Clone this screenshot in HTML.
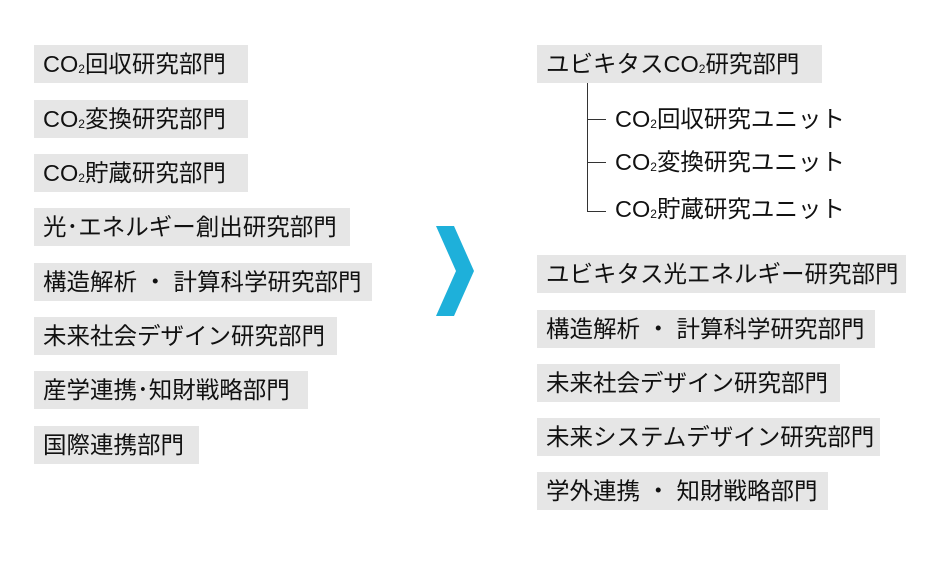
<!DOCTYPE html>
<html><head><meta charset="utf-8"><style>
body{margin:0;width:942px;height:569px;background:#fff;position:relative;overflow:hidden;font-family:"Liberation Sans","Noto Sans CJK JP",sans-serif;color:#111}
.b{position:absolute;height:38px;background:#e6e6e6;font-size:23.5px;line-height:38px;padding-left:9px;box-sizing:border-box;white-space:nowrap}
.t{position:absolute;font-size:23.5px;line-height:30px;white-space:nowrap}
sub{font-size:12px;vertical-align:-1px}
.l{position:absolute;background:#333}
</style></head><body>
<div class="b" style="left:34px;top:45px;width:214px">CO<sub>2</sub>回収研究部門</div>
<div class="b" style="left:34px;top:100px;width:214px">CO<sub>2</sub>変換研究部門</div>
<div class="b" style="left:34px;top:154px;width:214px">CO<sub>2</sub>貯蔵研究部門</div>
<div class="b" style="left:34px;top:208px;width:316px">光･エネルギー創出研究部門</div>
<div class="b" style="left:34px;top:263px;width:338px">構造解析 ・ 計算科学研究部門</div>
<div class="b" style="left:34px;top:317px;width:303px">未来社会デザイン研究部門</div>
<div class="b" style="left:34px;top:371px;width:274px">産学連携･知財戦略部門</div>
<div class="b" style="left:34px;top:426px;width:165px">国際連携部門</div>

<svg style="position:absolute;left:430px;top:224px" width="50" height="94"><polygon points="6,2 24,2 44,47 24,92 6,92 26,47" fill="#1eb0da"/></svg>

<div class="b" style="left:537px;top:45px;width:285px">ユビキタスCO<sub>2</sub>研究部門</div>
<div class="l" style="left:587px;top:83px;width:1px;height:129px"></div>
<div class="l" style="left:587px;top:119px;width:19px;height:1px"></div>
<div class="l" style="left:587px;top:162px;width:19px;height:1px"></div>
<div class="l" style="left:587px;top:211px;width:19px;height:1px"></div>
<div class="t" style="left:615px;top:104px">CO<sub>2</sub>回収研究ユニット</div>
<div class="t" style="left:615px;top:147px">CO<sub>2</sub>変換研究ユニット</div>
<div class="t" style="left:615px;top:194px">CO<sub>2</sub>貯蔵研究ユニット</div>
<div class="b" style="left:537px;top:255px;width:369px">ユビキタス光エネルギー研究部門</div>
<div class="b" style="left:537px;top:310px;width:338px">構造解析 ・ 計算科学研究部門</div>
<div class="b" style="left:537px;top:364px;width:303px">未来社会デザイン研究部門</div>
<div class="b" style="left:537px;top:418px;width:343px">未来システムデザイン研究部門</div>
<div class="b" style="left:537px;top:472px;width:291px">学外連携 ・ 知財戦略部門</div>
</body></html>
